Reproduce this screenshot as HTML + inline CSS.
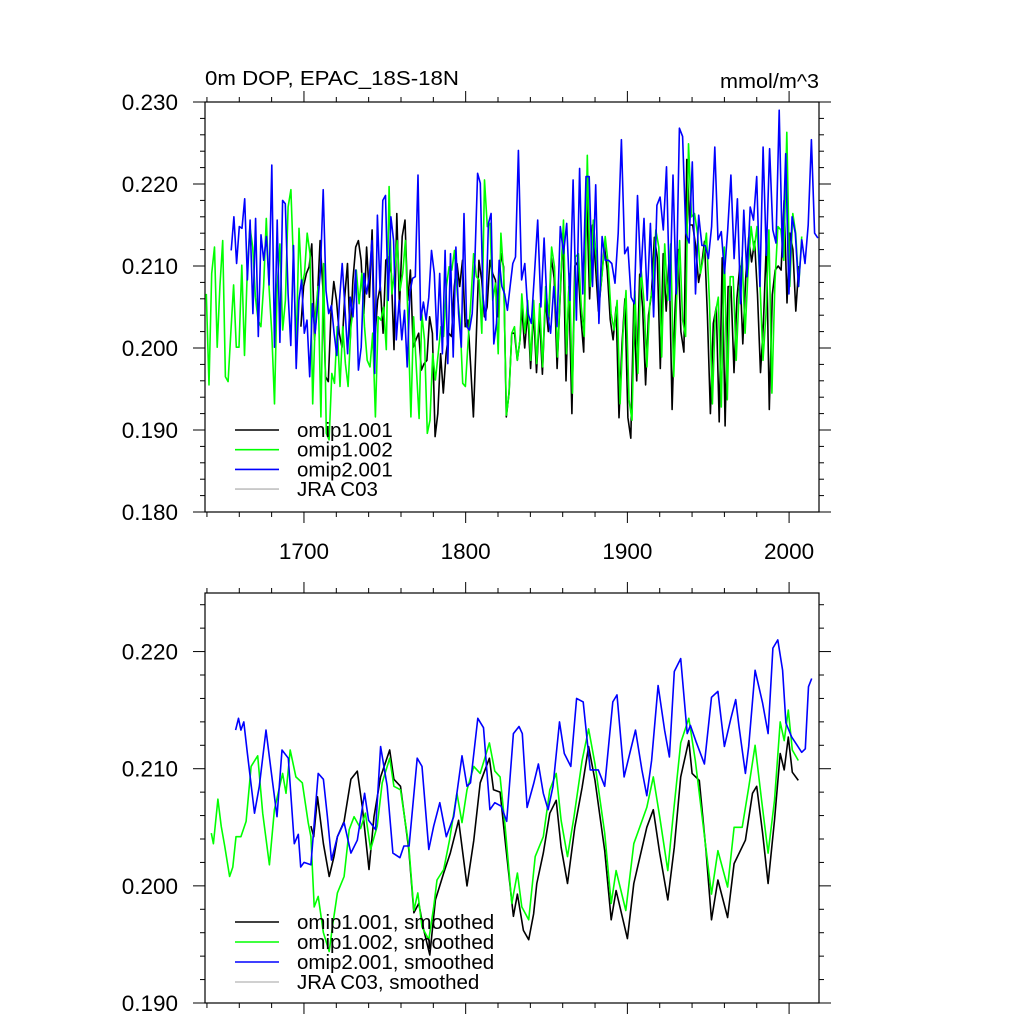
<!DOCTYPE html>
<html><head><meta charset="utf-8"><style>
html,body{margin:0;padding:0;background:#fff;}
svg{display:block;font-family:"Liberation Sans",Arial,sans-serif;}
</style></head><body>
<svg id="chart" width="1024" height="1024" viewBox="0 0 1024 1024" xmlns="http://www.w3.org/2000/svg">
<rect width="1024" height="1024" fill="#fff"/>
<text x="205" y="85" font-size="20" textLength="254" lengthAdjust="spacingAndGlyphs">0m DOP, EPAC_18S-18N</text>
<text x="819" y="88" font-size="20" text-anchor="end" textLength="99" lengthAdjust="spacingAndGlyphs">mmol/m^3</text>
<g id="top"></g><g id="bot"></g>
</svg>
<script>
// ---------- data ----------
const xTickYears = [1700, 1800, 1900, 2000];
const xTickLabels = ["1700", "1800", "1900", "2000"];
const topYTicks = [0.180, 0.190, 0.200, 0.210, 0.220, 0.230];
const topYLabels = ["0.180", "0.190", "0.200", "0.210", "0.220", "0.230"];
const botYTicks = [0.190, 0.200, 0.210, 0.220];
const botYLabels = ["0.190", "0.200", "0.210", "0.220"];
const legendTop = ["omip1.001", "omip1.002", "omip2.001", "JRA C03"];
const legendBot = ["omip1.001, smoothed", "omip1.002, smoothed", "omip2.001, smoothed", "JRA C03, smoothed"];

// top panel (annual), segments with start/end years
const blackA_range = [1698.1, 1833.6];
const blackA = [.2026,.2075,.2091,.2099,.2127,.2010,.2058,.2131,.2075,.1965,.1959,.2042,.2081,.2058,.2018,.2001,.2062,.2103,.2010,.2083,.2123,.2131,.2107,.2042,.2123,.2062,.2144,.2010,.2058,.2075,.2018,.2107,.2111,.2091,.1998,.2164,.2050,.2136,.2156,.2058,.2095,.2001,.2010,.2018,.1973,.1981,.1985,.2038,.2018,.1892,.1920,.1993,.1945,.1993,.2018,.2014,.2075,.2103,.2075,.2107,.2026,.2034,.1977,.1916,.2010,.2107,.2083,.2038,.2050,.2107,.2091,.2083,.2038,.2115,.2099,.1916,.1945,.2018,.2018,.1985,.2010];
const blackB_range = [1834.7, 2006.0];
const blackB = [.2050,.2000,.2045,.1975,.2045,.1970,.2040,.1968,.2060,.2020,.2110,.2085,.1975,.2060,.2140,.1960,.2075,.1920,.2100,.2105,.2040,.1995,.2190,.2060,.2150,.2100,.2045,.2080,.2125,.2095,.2035,.2010,.2050,.1915,.2005,.2060,.1915,.1890,.2055,.1960,.2090,.2050,.1955,.2040,.2065,.2135,.2110,.1975,.2115,.2045,.2110,.1925,.2045,.2120,.2020,.1995,.2230,.2150,.2150,.2125,.2080,.2100,.2130,.2040,.1920,.2030,.2050,.1910,.2110,.1905,.2075,.2075,.1970,.2060,.2100,.2005,.2085,.2135,.2105,.2130,.2065,.1970,.2030,.2130,.1925,.2065,.2095,.2100,.2095,.2180,.2055,.2140,.2120,.2045,.2100];
const greenA_range = [1639.6, 1833.6];
const greenA = [.2066,.1955,.2091,.2123,.2001,.2075,.2131,.1965,.1959,.2018,.2077,.2001,.2001,.2101,.1991,.2091,.2148,.2123,.2062,.2034,.2026,.2075,.2158,.2075,.2018,.1932,.2075,.2127,.2022,.2058,.2172,.2193,.2099,.2001,.2146,.2075,.2091,.2140,.2115,.1932,.2042,.2075,.1916,.2103,.1896,.1888,.1969,.1957,.2026,.1953,.2026,.1981,.1953,.2026,.2050,.2095,.2054,.2091,.2026,.1985,.1977,.2018,.1916,.2038,.2034,.2050,.1998,.2197,.2066,.2091,.2131,.2070,.2091,.2131,.2026,.1916,.2038,.1977,.1914,.2042,.2010,.1896,.1912,.1993,.1961,.1993,.2026,.2014,.2075,.2099,.2095,.2119,.2066,.2034,.1957,.1953,.2010,.2058,.2115,.2087,.2083,.2018,.2205,.2148,.2152,.2058,.2079,.1993,.2140,.2091,.1918,.1945,.2018,.2026,.1985,.2010];
const greenB_range = [1834.7, 2007.8];
const greenB = [.2066,.2018,.2058,.1985,.2058,.1981,.2054,.1977,.2075,.2038,.2123,.2099,.1989,.2075,.2156,.1993,.2091,.1945,.2111,.2115,.2050,.2014,.2235,.2075,.2156,.2111,.2058,.2091,.2136,.2103,.2042,.2022,.2058,.1932,.2018,.2070,.1937,.1912,.2070,.1969,.2099,.2058,.1977,.2054,.2075,.2144,.2123,.1989,.2127,.2058,.2127,.1965,.2058,.2131,.2034,.2014,.2249,.2160,.2164,.2140,.2091,.2111,.2140,.2058,.1932,.2042,.2062,.1928,.2123,.1937,.2087,.2087,.1985,.2070,.2111,.2018,.2095,.2148,.2119,.2148,.2079,.1985,.2042,.2144,.1945,.2079,.2148,.2144,.2107,.2263,.2075,.2164,.2140,.2075,.2136];
const blueA_range = [1655.0, 1830.8];
const blueA = [.2119,.2160,.2103,.2148,.2146,.2182,.2083,.2156,.2042,.2158,.2014,.2138,.2107,.2136,.2077,.2223,.2001,.2156,.2007,.2180,.2176,.2066,.2003,.2125,.1975,.2058,.2083,.2018,.2034,.1965,.2054,.2018,.2054,.2097,.2193,.2070,.2042,.2052,.2018,.1991,.2058,.2103,.2050,.1993,.2062,.2038,.2095,.1973,.2001,.2091,.2066,.2087,.2131,.1969,.2162,.2070,.2180,.2186,.2058,.2160,.2131,.2010,.2058,.2010,.2046,.1977,.2068,.2085,.2087,.2211,.2034,.2056,.2034,.2062,.2119,.2091,.2010,.2091,.1993,.2119,.1981,.2115,.1989,.2123,.2042,.2001,.2164,.2026,.2022,.2042,.2107,.2213,.2201,.2062,.2034,.2152,.2164,.2005,.2030,.2107,.2075,.2066,.2046,.2075,.2103,.2111];
const blueB_range = [1832.6, 2017.8];
const blueB = [.2241,.2083,.2103,.2042,.2030,.2091,.2156,.2050,.2134,.2042,.2018,.2075,.2026,.2148,.2115,.2152,.2058,.2205,.2034,.2219,.2066,.2209,.2209,.2075,.2199,.2030,.2136,.2107,.2107,.2103,.2079,.2140,.2254,.2115,.2123,.2062,.2054,.2186,.2087,.2158,.2058,.2152,.2038,.2174,.2184,.2144,.2221,.2058,.2211,.2066,.2268,.2258,.2140,.2128,.2227,.2066,.2162,.2125,.2125,.2109,.2148,.2245,.2132,.2142,.2091,.2144,.2211,.2109,.2182,.2054,.2168,.2087,.2172,.2156,.2209,.2075,.2245,.2113,.2243,.2144,.2128,.2290,.2111,.2237,.2066,.2160,.2140,.2075,.2132,.2103,.2150,.2254,.2140,.2134];

// bottom panel (smoothed), explicit years
const sBlackYears = [1704.3,1706,1708.4,1712,1715.6,1718.6,1720.7,1724.8,1729,1733,1736,1740.2,1743.3,1747.4,1753,1755.6,1759.7,1764.8,1768,1771,1774,1777.8,1781.3,1786.4,1790.5,1795.6,1800.8,1805,1809,1814.7,1817.2,1821.3,1824.4,1829.5,1832,1835.7,1839,1842,1844,1848,1852,1856,1859,1863,1867.5,1872,1876,1880,1886,1890,1893,1900,1904,1912,1916,1920,1925,1929,1933,1938,1940,1944.5,1948.6,1952,1956,1962,1966,1973,1977.4,1980,1983.6,1987,1991,1994.5,1997,1999.5,2002,2005.7];
const sBlackVals = [.2051,.2042,.2076,.2036,.2008,.2025,.2042,.2055,.2091,.2098,.2068,.2014,.2059,.2093,.2116,.2091,.2085,.2031,.1977,.1985,.1963,.1941,.1988,.2011,.2028,.2056,.2000,.2039,.2088,.2109,.2082,.2080,.2039,.1974,.1993,.1962,.1954,.1976,.2002,.2028,.2062,.2073,.2033,.2002,.2050,.2084,.2119,.2090,.2030,.1971,.1996,.1955,.2002,.2050,.2065,.2028,.1988,.2033,.2093,.2124,.2096,.2090,.2030,.1971,.2005,.1973,.2019,.2039,.2079,.2085,.2045,.2002,.2056,.2113,.2099,.2127,.2097,.2090];
const sGreenYears = [1642.7,1644,1646.8,1648.8,1651,1654,1656,1658,1661,1664.2,1667.3,1671.4,1674.5,1678.6,1681.7,1686.8,1688.9,1691.5,1695,1699,1702.6,1704.3,1706.3,1708.8,1712,1715.6,1717.6,1720.7,1724.8,1728,1731,1735,1738,1741.2,1745.3,1748.4,1753,1755.6,1759.7,1764.8,1768,1770.4,1773,1777.2,1780.2,1782.3,1786.4,1790,1794.6,1797.7,1800.8,1805,1809,1814.7,1818,1821.3,1824.4,1828.5,1832,1834.7,1839,1843,1848,1852,1856,1859,1863,1867,1872,1876,1880,1886,1890,1893,1899,1904,1912,1916,1920,1925,1928,1933,1938,1942,1947,1952,1956,1962,1966,1971,1975,1979,1983,1987,1991,1994.5,1997,1999.5,2002,2005.7];
const sGreenVals = [.2045,.2036,.2074,.2051,.2034,.2008,.2016,.2042,.2042,.2055,.2102,.2111,.2062,.2018,.2065,.2096,.2079,.2116,.2093,.2088,.2054,.2042,.1982,.1991,.1960,.1944,.1965,.1994,.2008,.2048,.2059,.2049,.2062,.2031,.2051,.2088,.2109,.2085,.2082,.2034,.1979,.1994,.1965,.1954,.1982,.2005,.2014,.2039,.2079,.2054,.2082,.2102,.2096,.2122,.2098,.2093,.2051,.1985,.2011,.1982,.1971,.2025,.2042,.2082,.2096,.2056,.2025,.2059,.2107,.2134,.2104,.2045,.1985,.2013,.1979,.2036,.2067,.2093,.2059,.2013,.2056,.2122,.2143,.2107,.2050,.1993,.2030,.1999,.2050,.2050,.2084,.2120,.2073,.2028,.2073,.2140,.2124,.2150,.2116,.2107];
const sBlueYears = [1657.7,1659.5,1661,1662.8,1665,1669.4,1672.4,1676.5,1679.6,1683.3,1686.4,1690.3,1694,1696.5,1698,1700,1704.3,1708.8,1712,1714.5,1717,1720.7,1724.8,1729,1733,1737.5,1740,1744.3,1747.4,1751.5,1755,1759.3,1761.8,1765,1770,1773,1777.2,1780.2,1784,1788,1792.6,1797.7,1800.8,1803,1807.5,1811,1815,1818,1822,1825.4,1829.5,1833,1835,1838,1842,1845,1848,1851,1854,1858,1861,1865,1868.6,1872.7,1877,1882,1886,1891,1893.6,1898,1902,1905,1909,1912,1915,1919,1923,1926,1929,1933,1937,1939,1942.5,1947.6,1952,1956,1960,1964,1967,1969,1973,1975,1979,1983.6,1987,1990,1993,1996,1998,2001.6,2004,2007.8,2010,2012,2014];
const sBlueVals = [.2133,.2143,.2133,.2140,.2113,.2062,.2085,.2133,.2099,.2059,.2116,.2109,.2036,.2044,.2016,.2020,.2018,.2096,.2091,.2059,.2022,.2042,.2054,.2028,.2039,.2079,.2056,.2048,.2119,.2085,.2028,.2024,.2034,.2034,.2109,.2102,.2031,.2051,.2071,.2042,.2059,.2111,.2085,.2088,.2143,.2135,.2065,.2071,.2068,.2055,.2130,.2136,.2130,.2067,.2087,.2104,.2079,.2065,.2085,.2140,.2113,.2102,.2160,.2157,.2099,.2099,.2085,.2157,.2163,.2093,.2116,.2133,.2099,.2077,.2107,.2171,.2133,.2110,.2183,.2194,.2130,.2137,.2123,.2104,.2161,.2166,.2119,.2143,.2159,.2136,.2096,.2119,.2184,.2156,.2130,.2203,.2210,.2184,.2139,.2127,.2122,.2114,.2117,.2170,.2177];

// ---------- drawing ----------
const NS = "http://www.w3.org/2000/svg";
const X0 = 205, X1 = 819, YR0 = 1638.8, YR1 = 2018.5;
const xScale = yr => X0 + (yr - YR0) / (YR1 - YR0) * (X1 - X0);
function mk(tag, attrs, parent) {
  const e = document.createElementNS(NS, tag);
  for (const k in attrs) e.setAttribute(k, attrs[k]);
  parent.appendChild(e); return e;
}
function segYears(range, vals) {
  return vals.map((v, i) => range[0] + i * (range[1] - range[0]) / (vals.length - 1));
}
function panel(g, top, bot, vmin, vmax, yTicks, yLabels, showXLabels) {
  const yScale = v => bot - (v - vmin) / (vmax - vmin) * (bot - top);
  const frame = mk("rect", {x: X0, y: top, width: X1 - X0, height: bot - top, fill: "none", stroke: "#000", "stroke-width": 1.2}, g);
  
  
  for (let yr = 1640; yr <= 2018; yr += 20) {
    const x = xScale(yr), major = yr % 100 === 0, L = major ? 11 : 5;
    const t1 = mk("line", {x1: x, x2: x, y1: bot, y2: bot + L, stroke: "#000", "stroke-width": 1}, g);
    
    
    const t2 = mk("line", {x1: x, x2: x, y1: top, y2: top - L, stroke: "#000", "stroke-width": 1}, g);
    
    
  }
  if (showXLabels) {
    xTickYears.forEach((yr, i) => {
      const t = mk("text", {x: xScale(yr), y: bot + 47, "font-size": 22.5, "text-anchor": "middle"}, g);
      t.textContent = xTickLabels[i];
      
      
    });
  }
  const step = 0.002;
  for (let v = vmin; v <= vmax + 1e-9; v += step) {
    const y = yScale(v);
    const major = Math.abs(Math.round(v * 100) - v * 100) < 1e-6;
    const L = major ? 12 : 5;
    const a = mk("line", {x1: X0, x2: X0 - L, y1: y, y2: y, stroke: "#000", "stroke-width": 1}, g);
    
    
    const b = mk("line", {x1: X1, x2: X1 + L, y1: y, y2: y, stroke: "#000", "stroke-width": 1}, g);
    
    
  }
  yTicks.forEach((v, i) => {
    const t = mk("text", {x: 178, y: yScale(v) + 8, "font-size": 22.5, "text-anchor": "end"}, g);
    t.textContent = yLabels[i];
    
    
  });
  return yScale;
}
function line(g, years, vals, yScale, color, name) {
  const d = vals.map((v, i) => (i ? "L" : "M") + xScale(years[i]).toFixed(1) + "," + yScale(v).toFixed(1)).join("");
  const p = mk("path", {d: d, fill: "none", stroke: color, "stroke-width": 1.6, "stroke-linejoin": "round"}, g);
  
  
}
function legend(g, labels, y0, dy) {
  const cols = ["#000", "#00ff00", "#0000ff", "#c0c0c0"];
  labels.forEach((lab, i) => {
    const y = y0 + i * dy;
    const l = mk("line", {x1: 235, x2: 279, y1: y, y2: y, stroke: cols[i], "stroke-width": 1.6}, g);
    
    
    const t = mk("text", {x: 297, y: y + 7, "font-size": 20.5}, g);
    t.textContent = lab;
    
    
  });
}
const gt = document.getElementById("top");


const ysT = panel(gt, 102, 512, 0.180, 0.230, topYTicks, topYLabels, true);
line(gt, segYears(blackA_range, blackA).concat(segYears(blackB_range, blackB)), blackA.concat(blackB), ysT, "#000", "omip1-001-line");
line(gt, segYears(greenA_range, greenA).concat(segYears(greenB_range, greenB)), greenA.concat(greenB), ysT, "#00ff00", "omip1-002-line");
line(gt, segYears(blueA_range, blueA).concat(segYears(blueB_range, blueB)), blueA.concat(blueB), ysT, "#0000ff", "omip2-001-line");
legend(gt, legendTop, 430, 19.7);

const gb = document.getElementById("bot");


const ysB = panel(gb, 593, 1003, 0.190, 0.225, botYTicks, botYLabels, false);
line(gb, sBlackYears, sBlackVals, ysB, "#000", "omip1-001-smoothed-line");
line(gb, sGreenYears, sGreenVals, ysB, "#00ff00", "omip1-002-smoothed-line");
line(gb, sBlueYears, sBlueVals, ysB, "#0000ff", "omip2-001-smoothed-line");
legend(gb, legendBot, 922, 20);
</script>
</body></html>
